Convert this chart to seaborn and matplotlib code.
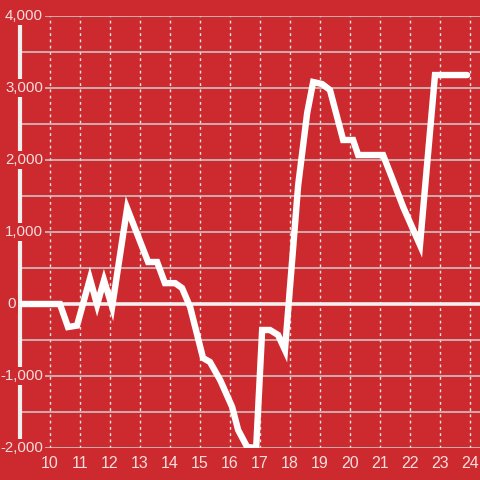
import pandas as pd
import matplotlib
matplotlib.use("Agg")
import matplotlib.pyplot as plt
from matplotlib.ticker import MultipleLocator
import matplotlib.transforms as mtransforms
import seaborn as sns

# Data (hour of day vs. value)
hours = [9.0, 10.33, 10.6, 10.9, 11.33, 11.57, 11.8, 12.07, 12.57, 13.27,
         13.57, 13.83, 14.17, 14.4, 14.67, 15.1, 15.33, 15.67, 16.07, 16.27,
         16.57, 16.87, 17.07, 17.33, 17.6, 17.83, 18.27, 18.57, 18.77, 19.07,
         19.33, 19.77, 20.1, 20.27, 21.1, 21.4, 21.77, 22.33, 22.83, 23.9]
values = [0, 0, -320, -300, 350, -10, 330, -40, 1330, 583,
          583, 290, 290, 222, -42, -750, -805, -1055, -1430, -1750,
          -1986, -2000, -361, -361, -430, -639, 1650, 2653, 3083, 3055,
          2972, 2278, 2278, 2069, 2069, 1750, 1347, 819, 3180, 3180]
x_ticks = list(range(10, 25))
y_major = [-2000, -1000, 0, 1000, 2000, 3000, 4000]

BG = "#cd2a2f"
TXT = "#f6dede"

sns.set_style("white")
plt.rcParams['font.family'] = ['Liberation Sans', 'DejaVu Sans']

df = pd.DataFrame({"hour": hours, "value": values})

fig = plt.figure(figsize=(4.8, 4.8), dpi=100, facecolor=BG)
ax = fig.add_axes([20 / 480, 32 / 480, 460 / 480, 432 / 480])
ax.set_facecolor(BG)

ax.set_xlim(9, 24.33)
ax.set_ylim(-2000, 4000)

# grid
ax.yaxis.set_major_locator(MultipleLocator(1000))
ax.yaxis.set_minor_locator(MultipleLocator(500))
ax.set_xticks(x_ticks)
ax.grid(which="both", axis="y", color="#cfcfcf", lw=1.1)
ax.grid(which="major", axis="x", color="#e6e6e6", lw=1.0, ls=(0, (2, 2.5)))
ax.set_axisbelow(True)

ax.axhline(0, color="#f2f0ee", lw=2.6, zorder=2)

sns.lineplot(data=df, x="hour", y="value", ax=ax, color="white", lw=4.6,
             zorder=3, solid_joinstyle="miter")

for s in ["top", "right", "bottom"]:
    ax.spines[s].set_visible(False)
ax.spines["left"].set_color("#f2f0ee")
ax.spines["left"].set_linewidth(3)
ax.spines["left"].set_bounds(-1890, 3890)
ax.spines["left"].set_zorder(1)

# y labels drawn as text with a background box that cuts the spine and grid
ax.set_yticklabels([])
ax.tick_params(axis="y", which="both", length=0)
trans = mtransforms.blended_transform_factory(ax.transAxes, ax.transData)
for v in y_major:
    xr = (43 - 20) / 460 if v != 0 else (16 - 20) / 460
    ax.text(xr, v, f"{v:,}", transform=trans, ha="right", va="center",
            fontsize=10.8, color=TXT, zorder=5, clip_on=False,
            bbox=dict(facecolor=BG, edgecolor="none", pad=1.2))

ax.tick_params(axis="x", length=0, pad=6, labelsize=11.5, labelcolor=TXT)

ax.set_xlabel("")
ax.set_ylabel("")

fig.savefig("out.png", dpi=100, facecolor=BG)
